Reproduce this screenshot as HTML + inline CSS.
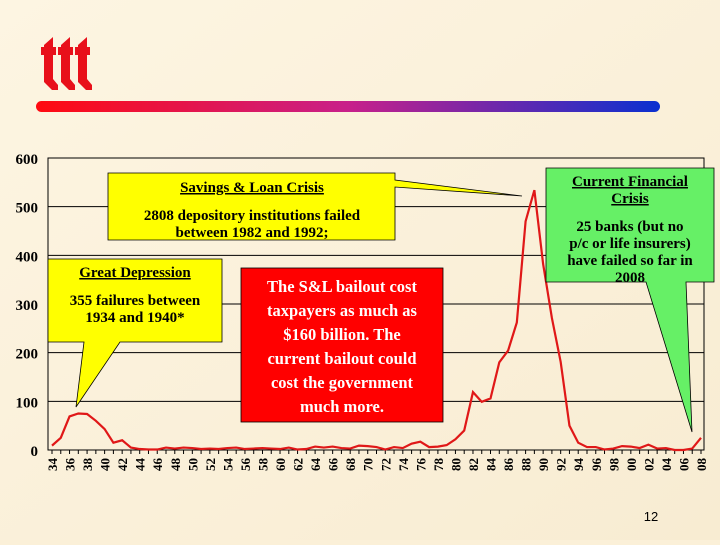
<!DOCTYPE html>
<html><head><meta charset="utf-8"><style>
body{margin:0;width:720px;height:540px;overflow:hidden;background:#fbf0d8;font-family:"Liberation Serif",serif}
</style></head><body>
<svg width="720" height="540">
<defs><linearGradient id="bg" x1="0" y1="0" x2="1" y2="1"><stop offset="0" stop-color="#fdf5e2"/><stop offset="1" stop-color="#f8ecd2"/></linearGradient>
<linearGradient id="rule" x1="0" y1="0" x2="1" y2="0"><stop offset="0" stop-color="#ff0a10"/><stop offset="0.5" stop-color="#c8208a"/><stop offset="1" stop-color="#0a30d0"/></linearGradient>
<g id="glyph"><polygon points="0,10 9,2 9,12 12,12 12,20 9,20 9,44 14,50 14,55 8,55 0,47 0,20 -3,20 -3,12 0,12" fill="#e8101a"/></g></defs>
<rect width="720" height="540" fill="url(#bg)"/>
<g>
<use href="#glyph" x="44" y="35"/><use href="#glyph" x="61" y="35"/><use href="#glyph" x="78" y="35"/>
</g>
<rect x="36" y="101" width="624" height="11" rx="5.5" fill="url(#rule)"/>
<g id="grid"></g>
<g id="axes"></g>
<polyline id="series" fill="none" stroke="#e01818" stroke-width="2.2"/>
<g>
<polygon points="108,173 395,173 395,180 522,196 395,187 395,240 108,240" fill="#ffff00" stroke="#000" stroke-width="0.8"/>
<text x="252" y="192" text-anchor="middle" font-size="15" font-weight="bold" text-decoration="underline">Savings &amp; Loan Crisis</text>
<text x="252" y="220" text-anchor="middle" font-size="15" font-weight="bold">2808 depository institutions failed</text>
<text x="252" y="237" text-anchor="middle" font-size="15" font-weight="bold">between 1982 and 1992;</text>
</g>
<g>
<polygon points="48,259 222,259 222,342 120,342 76,407 84,342 48,342" fill="#ffff00" stroke="#000" stroke-width="0.8"/>
<text x="135" y="277" text-anchor="middle" font-size="15" font-weight="bold" text-decoration="underline">Great Depression</text>
<text x="135" y="305" text-anchor="middle" font-size="15" font-weight="bold">355 failures between</text>
<text x="135" y="322" text-anchor="middle" font-size="15" font-weight="bold">1934 and 1940*</text>
</g>
<g>
<rect x="241" y="268" width="202" height="154" fill="#ff0000" stroke="#000" stroke-width="0.8"/>
<g fill="#fff" font-size="16.5" font-weight="bold" text-anchor="middle">
<text x="342" y="292">The S&amp;L bailout cost</text>
<text x="342" y="316">taxpayers as much as</text>
<text x="342" y="340">$160 billion.  The</text>
<text x="342" y="364">current bailout could</text>
<text x="342" y="388">cost the government</text>
<text x="342" y="412">much more.</text></g>
</g>
<g>
<polygon points="546,168 714,168 714,282 686,282 692,432 646,282 546,282" fill="#66f066" stroke="#000" stroke-width="0.8"/>
<g font-size="15" font-weight="bold" text-anchor="middle">
<text x="630" y="186" text-decoration="underline">Current Financial</text>
<text x="630" y="203" text-decoration="underline">Crisis</text>
<text x="630" y="231">25 banks (but no</text>
<text x="630" y="248">p/c or life insurers)</text>
<text x="630" y="265">have failed so far in</text>
<text x="630" y="282">2008</text></g>
</g>
<text x="651" y="521" font-size="13" font-family="Liberation Sans,sans-serif" text-anchor="middle">12</text>
</svg>
<script>
const years=[];for(let y=1934;y<=2008;y++)years.push(y);
const failures=[9,25,69,75,74,60,43,15,20,5,2,1,1,5,3,5,4,2,3,2,4,5,2,3,4,3,2,5,1,2,7,5,7,4,3,9,8,6,1,6,4,13,17,6,7,10,22,40,119,99,106,180,204,262,470,534,382,271,181,50,15,6,6,1,3,8,7,4,11,3,4,0,0,3,25];
const yTicks=[0,100,200,300,400,500,600];
const X0=52,X1=701,PL=48,PR=704,Y0=450,Y600=158;
const xs=i=>X0+(X1-X0)*i/(years.length-1);
const ys=v=>Y0-(Y0-Y600)*v/600;
const NS='http://www.w3.org/2000/svg';
const grid=document.getElementById('grid'),axes=document.getElementById('axes');
function mk(t,a,p){const e=document.createElementNS(NS,t);for(const k in a)e.setAttribute(k,a[k]);p.appendChild(e);return e;}
yTicks.forEach(v=>{
 const l=mk('line',{x1:PL,x2:PR,y1:ys(v),y2:ys(v),stroke:'#000','stroke-width':1},grid);
 
 
 const t=mk('text',{x:38,y:ys(v)+6,'text-anchor':'end','font-size':15,'font-weight':'bold'},axes);
 t.textContent=v;
 
 
});
const fr=mk('rect',{x:PL,y:Y600,width:PR-PL,height:Y0-Y600,fill:'none',stroke:'#000','stroke-width':1},axes);


years.forEach((y,i)=>{
 mk('line',{x1:xs(i),x2:xs(i),y1:Y0,y2:Y0+4,stroke:'#000'},axes);
 if(y%2===0){
  const x=xs(i),lab=String(y).slice(2);
  const t=mk('text',{x:x+5,y:Y0+8,'text-anchor':'end','font-size':13,'font-weight':'bold',transform:`rotate(-90 ${x+5} ${Y0+8})`},axes);
  t.textContent=lab;
  
  
 }
});
document.getElementById('series').setAttribute('points',failures.map((v,i)=>xs(i)+','+ys(v)).join(' '));
</script>
</body></html>
